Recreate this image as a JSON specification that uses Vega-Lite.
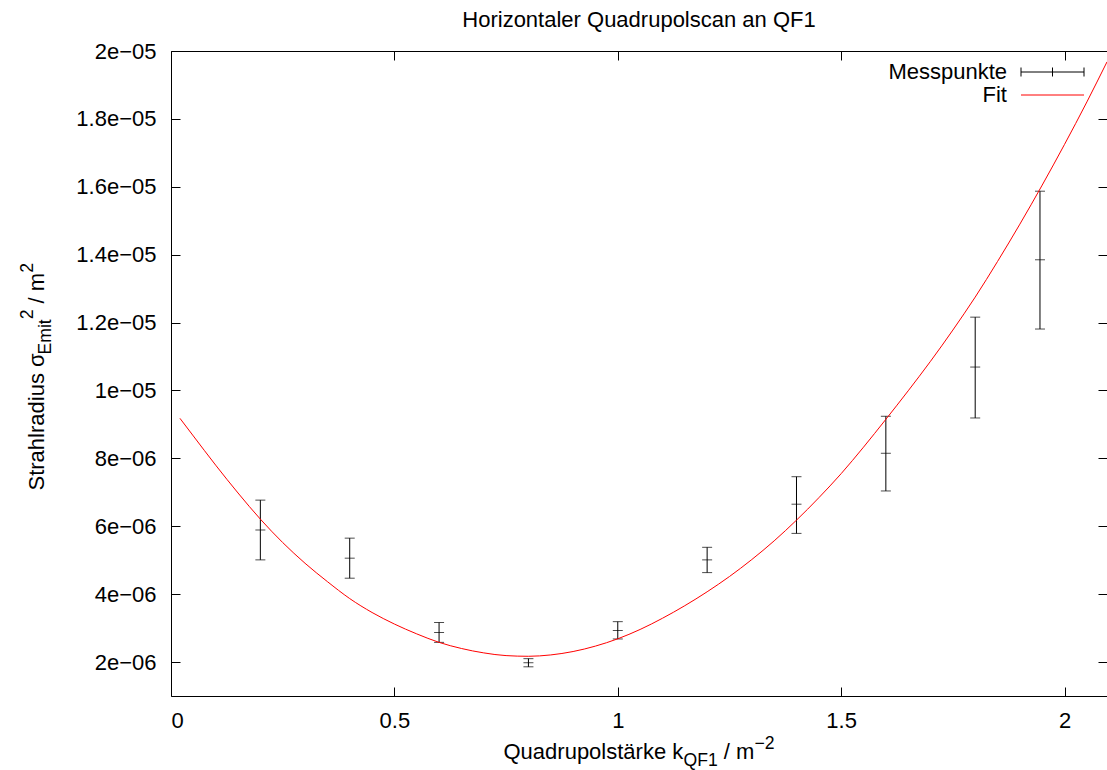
{
  "$schema": "https://vega.github.io/schema/vega-lite/v6.json",
  "autosize": {"type": "none"},
  "padding": {"left": 171, "top": 51, "right": 0, "bottom": 74},
  "width": 936,
  "height": 645,
  "background": "white",
  "config": {
    "view": {"stroke": null},
    "font": "Liberation Sans",
    "axis": {
      "grid": false,
      "labelFont": "Liberation Sans",
      "labelFontSize": 22,
      "labelColor": "black",
      "titleFont": "Liberation Sans",
      "titleFontSize": 22,
      "titleFontWeight": "normal",
      "titleColor": "black",
      "titleBaseline": "alphabetic",
      "domainColor": "black",
      "domainWidth": 1,
      "tickColor": "black",
      "tickWidth": 1,
      "tickSize": -9
    }
  },
  "title": {
    "text": "Horizontaler Quadrupolscan an QF1",
    "font": "Liberation Sans",
    "fontSize": 22,
    "fontWeight": "normal",
    "color": "black",
    "anchor": "middle",
    "baseline": "alphabetic",
    "offset": 9,
    "dy": 17.7
  },
  "datasets": {
    "meas": [
      {"k": 0.2, "lo": 5.01e-6, "mid": 5.89e-6, "hi": 6.77e-6},
      {"k": 0.4, "lo": 4.47e-6, "mid": 5.06e-6, "hi": 5.65e-6},
      {"k": 0.6, "lo": 2.58e-6, "mid": 2.87e-6, "hi": 3.165e-6},
      {"k": 0.8, "lo": 1.86e-6, "mid": 1.98e-6, "hi": 2.10e-6},
      {"k": 1.0, "lo": 2.68e-6, "mid": 2.93e-6, "hi": 3.19e-6},
      {"k": 1.2, "lo": 4.635e-6, "mid": 5.01e-6, "hi": 5.38e-6},
      {"k": 1.4, "lo": 5.79e-6, "mid": 6.65e-6, "hi": 7.46e-6},
      {"k": 1.6, "lo": 7.04e-6, "mid": 8.15e-6, "hi": 9.24e-6},
      {"k": 1.8, "lo": 9.19e-6, "mid": 10.69e-6, "hi": 12.16e-6},
      {"k": 1.945, "lo": 11.81e-6, "mid": 13.85e-6, "hi": 15.87e-6}
    ],
    "fit": [
      {"k": 0.02, "s": 9.18e-6},
      {"k": 0.05, "s": 8.66e-6},
      {"k": 0.10, "s": 7.80e-6},
      {"k": 0.15, "s": 6.98e-6},
      {"k": 0.20, "s": 6.21e-6},
      {"k": 0.25, "s": 5.52e-6},
      {"k": 0.30, "s": 4.91e-6},
      {"k": 0.35, "s": 4.37e-6},
      {"k": 0.40, "s": 3.87e-6},
      {"k": 0.45, "s": 3.46e-6},
      {"k": 0.50, "s": 3.12e-6},
      {"k": 0.55, "s": 2.83e-6},
      {"k": 0.60, "s": 2.58e-6},
      {"k": 0.65, "s": 2.40e-6},
      {"k": 0.70, "s": 2.27e-6},
      {"k": 0.75, "s": 2.19e-6},
      {"k": 0.80, "s": 2.17e-6},
      {"k": 0.85, "s": 2.21e-6},
      {"k": 0.90, "s": 2.31e-6},
      {"k": 0.95, "s": 2.47e-6},
      {"k": 1.00, "s": 2.685e-6},
      {"k": 1.05, "s": 2.96e-6},
      {"k": 1.10, "s": 3.29e-6},
      {"k": 1.15, "s": 3.66e-6},
      {"k": 1.20, "s": 4.07e-6},
      {"k": 1.25, "s": 4.52e-6},
      {"k": 1.30, "s": 5.02e-6},
      {"k": 1.35, "s": 5.57e-6},
      {"k": 1.40, "s": 6.18e-6},
      {"k": 1.45, "s": 6.84e-6},
      {"k": 1.50, "s": 7.55e-6},
      {"k": 1.55, "s": 8.33e-6},
      {"k": 1.60, "s": 9.15e-6},
      {"k": 1.65, "s": 9.99e-6},
      {"k": 1.70, "s": 10.86e-6},
      {"k": 1.75, "s": 11.78e-6},
      {"k": 1.80, "s": 12.75e-6},
      {"k": 1.85, "s": 13.80e-6},
      {"k": 1.90, "s": 14.90e-6},
      {"k": 1.95, "s": 16.05e-6},
      {"k": 2.00, "s": 17.25e-6},
      {"k": 2.05, "s": 18.50e-6},
      {"k": 2.095, "s": 19.68e-6}
    ]
  },
  "layer": [
    {
      "data": {"name": "meas"},
      "encoding": {
        "x": {
          "field": "k", "type": "quantitative",
          "scale": {"domain": [0, 2.095], "nice": false, "zero": false},
          "axis": {"orient": "top", "labels": false, "title": null, "values": [0, 0.5, 1, 1.5, 2], "domain": true}
        },
        "color": {
          "datum": "Messpunkte",
          "scale": {"domain": ["Messpunkte", "Fit"], "range": ["#000000", "#ff0000"]},
          "legend": {
            "title": null,
            "orient": "none",
            "legendX": 870.5,
            "legendY": 10,
            "labelFont": "Liberation Sans",
            "labelFontSize": 22,
            "labelColor": "black",
            "labelAlign": "right",
            "labelOffset": -56.5,
            "symbolSize": 100,
            "rowPadding": 1,
            "padding": 0,
            "encode": {
              "symbols": {
                "update": {
                  "shape": {"signal": "datum.value === 'Fit' ? 'M-6.3,0L6.3,0' : 'M-6.3,-0.9L-6.3,0.9M-6.3,0L6.3,0M6.3,-0.9L6.3,0.9M0,-0.9L0,0.9'"},
                  "stroke": {"signal": "datum.value === 'Fit' ? '#ff0000' : '#000000'"},
                  "fill": {"value": "transparent"},
                  "strokeWidth": {"value": 1},
                  "opacity": {"value": 1}
                }
              }
            }
          }
        }
      },
      "layer": [
        {
          "mark": {"type": "rule", "strokeWidth": 1},
          "encoding": {
            "y": {
              "field": "lo", "type": "quantitative",
              "scale": {"domain": [1e-6, 2e-5], "nice": false, "zero": false},
              "axis": {"orient": "right", "labels": false, "title": null, "domain": false,
                       "values": [2e-6, 4e-6, 6e-6, 8e-6, 1e-5, 1.2e-5, 1.4e-5, 1.6e-5, 1.8e-5, 2e-5]}
            },
            "y2": {"field": "hi"}
          }
        },
        {
          "transform": [{"fold": ["lo", "mid", "hi"], "as": ["which", "val"]}],
          "mark": {"type": "tick", "orient": "horizontal", "size": 10, "thickness": 1},
          "encoding": {
            "y": {"field": "val", "type": "quantitative"}
          }
        }
      ]
    },
    {
      "data": {"name": "fit"},
      "mark": {"type": "line", "strokeWidth": 1, "interpolate": "monotone"},
      "encoding": {
        "x": {
          "field": "k", "type": "quantitative",
          "axis": {
            "orient": "bottom",
            "values": [0, 0.5, 1, 1.5, 2],
            "format": "~g",
            "labelPadding": 23,
            "title": "Quadrupolstärke k",
            "titleX": 332,
            "titleY": 62.3,
            "titleAlign": "left"
          }
        },
        "y": {
          "field": "s", "type": "quantitative",
          "axis": {
            "orient": "left",
            "values": [2e-6, 4e-6, 6e-6, 8e-6, 1e-5, 1.2e-5, 1.4e-5, 1.6e-5, 1.8e-5, 2e-5],
            "labelExpr": "datum.value >= 9.99e-6 ? format(datum.value * 1e5, '.2~f') + 'e−05' : format(datum.value * 1e6, '.2~f') + 'e−06'",
            "labelPadding": 24,
            "title": "Strahlradius σ",
            "titleAngle": -90,
            "titleX": -127.7,
            "titleY": 439,
            "titleAlign": "left"
          }
        },
        "color": {"datum": "Fit"}
      }
    },
    {
      "data": {"name": "fit"},
      "mark": {"type": "point", "opacity": 0},
      "encoding": {
        "x": {
          "field": "k", "type": "quantitative",
          "axis": {"orient": "bottom", "labels": false, "ticks": false, "domain": false,
                   "title": "QF1", "titleFontSize": 17.6, "titleX": 512, "titleY": 69, "titleAlign": "left"}
        },
        "y": {
          "field": "s", "type": "quantitative",
          "axis": {"orient": "left", "labels": false, "ticks": false, "domain": false,
                   "title": "Emit", "titleFontSize": 17.6, "titleAngle": -90, "titleX": -121, "titleY": 303, "titleAlign": "left"}
        }
      }
    },
    {
      "data": {"name": "fit"},
      "mark": {"type": "point", "opacity": 0},
      "encoding": {
        "x": {
          "field": "k", "type": "quantitative",
          "axis": {"orient": "bottom", "labels": false, "ticks": false, "domain": false,
                   "title": "/ m", "titleX": 552.3, "titleY": 62.3, "titleAlign": "left"}
        },
        "y": {
          "field": "s", "type": "quantitative",
          "axis": {"orient": "left", "labels": false, "ticks": false, "domain": false,
                   "title": "2", "titleFontSize": 17.6, "titleAngle": -90, "titleX": -138.4, "titleY": 267.8, "titleAlign": "left"}
        }
      }
    },
    {
      "data": {"name": "fit"},
      "mark": {"type": "point", "opacity": 0},
      "encoding": {
        "x": {
          "field": "k", "type": "quantitative",
          "axis": {"orient": "bottom", "labels": false, "ticks": false, "domain": false,
                   "title": "−2", "titleFontSize": 17.6, "titleX": 582.9, "titleY": 52, "titleAlign": "left"}
        },
        "y": {
          "field": "s", "type": "quantitative",
          "axis": {"orient": "left", "labels": false, "ticks": false, "domain": false,
                   "title": "/ m", "titleAngle": -90, "titleX": -127.7, "titleY": 251.9, "titleAlign": "left"}
        }
      }
    },
    {
      "data": {"name": "fit"},
      "mark": {"type": "point", "opacity": 0},
      "encoding": {
        "x": {"field": "k", "type": "quantitative", "axis": null},
        "y": {
          "field": "s", "type": "quantitative",
          "axis": {"orient": "left", "labels": false, "ticks": false, "domain": false,
                   "title": "2", "titleFontSize": 17.6, "titleAngle": -90, "titleX": -138.4, "titleY": 221.3, "titleAlign": "left"}
        }
      }
    }
  ],
  "resolve": {"axis": {"x": "independent", "y": "independent"}}
}
